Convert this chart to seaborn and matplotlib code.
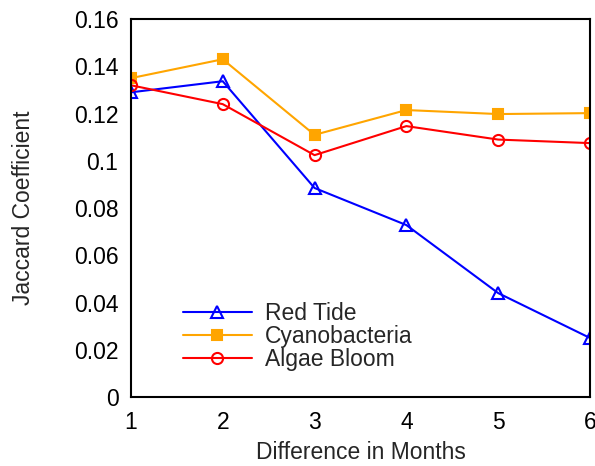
import matplotlib
matplotlib.use("Agg")
import matplotlib.pyplot as plt
import seaborn as sns
import pandas as pd

months = [1, 2, 3, 4, 5, 6]
red_tide = [0.129, 0.1337, 0.0885, 0.0728, 0.0440, 0.0250]
cyanobacteria = [0.135, 0.143, 0.111, 0.1215, 0.1198, 0.1202]
algae_bloom = [0.132, 0.124, 0.1024, 0.1147, 0.1090, 0.1075]
series_names = ["Red Tide", "Cyanobacteria", "Algae Bloom"]
y_ticks = [0, 0.02, 0.04, 0.06, 0.08, 0.1, 0.12, 0.14, 0.16]
y_tick_labels = ["0", "0.02", "0.04", "0.06", "0.08", "0.1", "0.12", "0.14", "0.16"]

df = pd.DataFrame({
    "month": months * 3,
    "value": red_tide + cyanobacteria + algae_bloom,
    "series": [series_names[0]] * 6 + [series_names[1]] * 6 + [series_names[2]] * 6,
})

sns.set_style("white")
plt.rcParams["font.family"] = ["Liberation Sans", "DejaVu Sans"]

fig = plt.figure(figsize=(5.95, 4.66), dpi=100)
ax = fig.add_axes([0.220, 0.148, 0.7716, 0.811])

palette = {"Red Tide": "#0000ff", "Cyanobacteria": "#ffa500", "Algae Bloom": "#ff0000"}
markers = {"Red Tide": "^", "Cyanobacteria": "s", "Algae Bloom": "o"}

for name in series_names:
    sub = df[df["series"] == name]
    filled = name == "Cyanobacteria"
    sns.lineplot(data=sub, x="month", y="value", ax=ax, color=palette[name],
                 marker=markers[name], markersize=8 if name != "Cyanobacteria" else 7,
                 markerfacecolor=palette[name] if filled else "none",
                 markeredgecolor=palette[name], markeredgewidth=1.5,
                 linewidth=1.5, label=name)

ax.set_xlim(1, 6)
ax.set_ylim(0, 0.16)
ax.set_xticks(months)
ax.set_xticklabels([str(m) for m in months])
ax.set_yticks(y_ticks)
ax.set_yticklabels(y_tick_labels)
ax.tick_params(direction="in", length=7, width=1.5, labelsize=16.5, pad=9, colors="black")
ax.tick_params(axis="x", pad=10)
for s in ax.spines.values():
    s.set_linewidth(1.5)
    s.set_color("black")
ax.set_xlabel("Difference in Months", fontsize=16.5, labelpad=5)
ax.set_ylabel("Jaccard Coefficient", fontsize=16.5, labelpad=28)

leg = ax.legend(loc="lower left", bbox_to_anchor=(0.113, 0.07), frameon=False,
                fontsize=16.5, handlelength=3.0, handletextpad=0.6, labelspacing=0.0,
                borderaxespad=0, borderpad=0)

fig.savefig("out.png", dpi=100)
